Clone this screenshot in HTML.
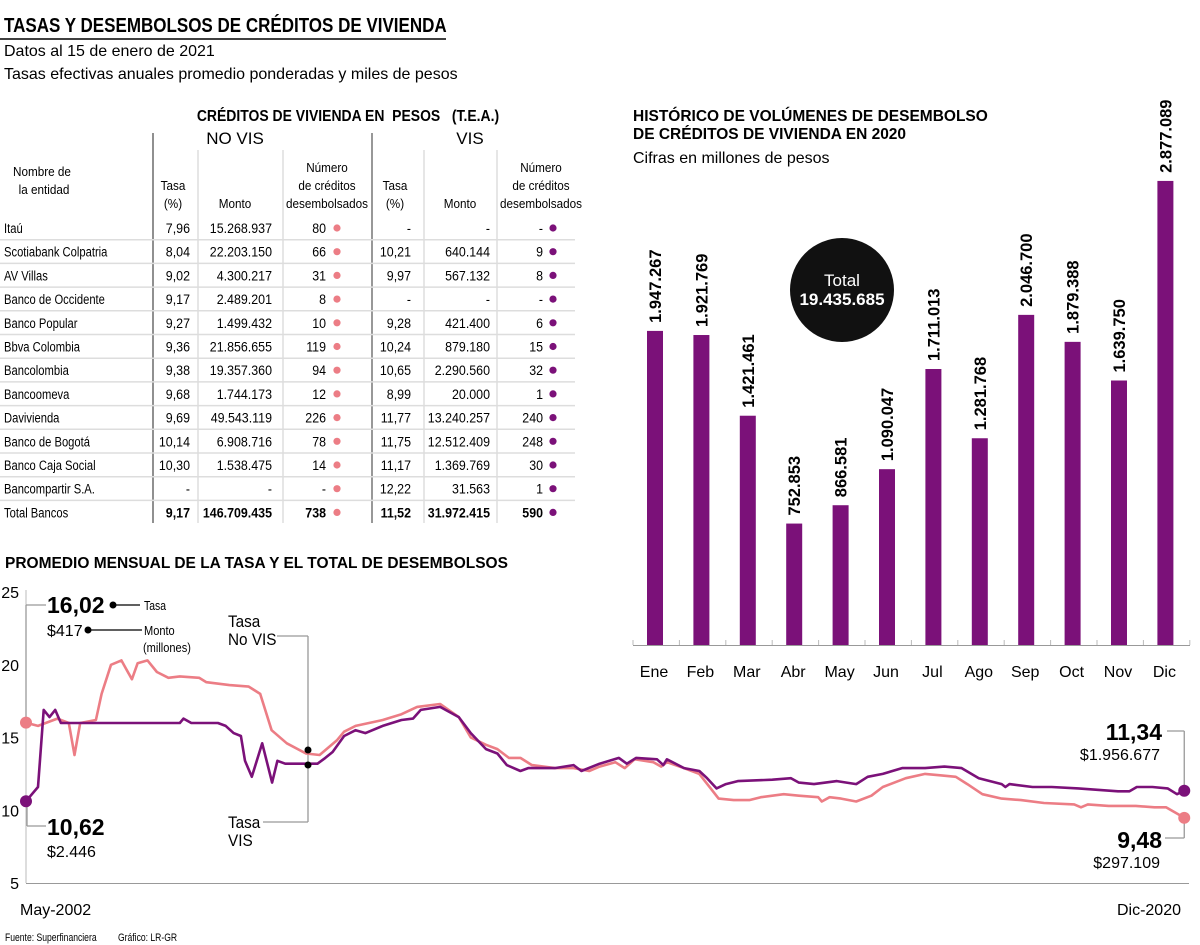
<!DOCTYPE html>
<html><head><meta charset="utf-8">
<style>
html,body{margin:0;padding:0;background:#fff;}
svg{display:block;font-family:"Liberation Sans Narrow","Liberation Sans",sans-serif;}
</style></head>
<body>
<svg id="s" width="1200" height="945" viewBox="0 0 1200 945" xmlns="http://www.w3.org/2000/svg">
<g>
<text id="mainTitle" x="4" y="32" font-size="20" font-weight="bold">TASAS Y DESEMBOLSOS DE CRÉDITOS DE VIVIENDA</text>
<line x1="0" y1="39" x2="446" y2="39" stroke="#000" stroke-width="1.5"/>
<text x="4" y="56" font-size="16">Datos al 15 de enero de 2021</text>
<text x="4" y="79" font-size="16">Tasas efectivas anuales promedio ponderadas y miles de pesos</text>
</g>
<g id="table">
<text id="tableTitle" x="348" y="121" font-size="15.5" font-weight="bold" text-anchor="middle" xml:space="preserve">CRÉDITOS DE VIVIENDA EN  PESOS   (T.E.A.)</text>
<text x="235" y="144" font-size="17" text-anchor="middle">NO VIS</text>
<text x="470" y="144" font-size="17" text-anchor="middle">VIS</text>
<line x1="153" y1="133" x2="153" y2="523" stroke="#222"/>
<line x1="372" y1="133" x2="372" y2="523" stroke="#777" stroke-width="1.5"/>
<line x1="198" y1="150" x2="198" y2="523" stroke="#ccc"/>
<line x1="283" y1="150" x2="283" y2="523" stroke="#ccc"/>
<line x1="424" y1="150" x2="424" y2="523" stroke="#ccc"/>
<line x1="497" y1="150" x2="497" y2="523" stroke="#ccc"/>
<g font-size="13" class="sq">
<text x="42" y="176" text-anchor="middle">Nombre de</text><text x="44" y="194" text-anchor="middle">la entidad</text>
<text x="173" y="190" text-anchor="middle">Tasa</text><text x="173" y="208" text-anchor="middle">(%)</text>
<text x="235" y="208" text-anchor="middle">Monto</text>
<text x="327" y="172" text-anchor="middle">Número</text><text x="327" y="190" text-anchor="middle">de créditos</text><text x="327" y="208" text-anchor="middle">desembolsados</text>
<text x="395" y="190" text-anchor="middle">Tasa</text><text x="395" y="208" text-anchor="middle">(%)</text>
<text x="460" y="208" text-anchor="middle">Monto</text>
<text x="541" y="172" text-anchor="middle">Número</text><text x="541" y="190" text-anchor="middle">de créditos</text><text x="541" y="208" text-anchor="middle">desembolsados</text>
</g>
</g>
<g id="bars">
<text x="633" y="121" font-size="15.5" font-weight="bold">HISTÓRICO DE VOLÚMENES DE DESEMBOLSO</text>
<text x="633" y="139" font-size="15.5" font-weight="bold">DE CRÉDITOS DE VIVIENDA EN 2020</text>
<text x="633" y="163" font-size="16">Cifras en millones de pesos</text>
<line x1="633" y1="645.5" x2="1190" y2="645.5" stroke="#999"/>
</g>
<g id="line">
<text x="5" y="568" font-size="15.5" font-weight="bold">PROMEDIO MENSUAL DE LA TASA Y EL TOTAL DE DESEMBOLSOS</text>
<line x1="26" y1="590" x2="26" y2="883" stroke="#bbb"/>
<line x1="26" y1="883.5" x2="1189" y2="883.5" stroke="#999"/>
<text x="20" y="915" font-size="16">May-2002</text>
<text x="1181" y="915" font-size="16" text-anchor="end">Dic-2020</text>
<text id="fuente" x="5" y="941" font-size="11">Fuente: Superfinanciera</text>
<text id="grafico" x="118" y="941" font-size="11">Gráfico: LR-GR</text>
</g>
</svg>
<script>
// ---- table data ----
const entities=["Itaú","Scotiabank Colpatria","AV Villas","Banco de Occidente","Banco Popular","Bbva Colombia","Bancolombia","Bancoomeva","Davivienda","Banco de Bogotá","Banco Caja Social","Bancompartir S.A.","Total Bancos"];
const noVisTasa=["7,96","8,04","9,02","9,17","9,27","9,36","9,38","9,68","9,69","10,14","10,30","-","9,17"];
const noVisMonto=["15.268.937","22.203.150","4.300.217","2.489.201","1.499.432","21.856.655","19.357.360","1.744.173","49.543.119","6.908.716","1.538.475","-","146.709.435"];
const noVisNum=["80","66","31","8","10","119","94","12","226","78","14","-","738"];
const visTasa=["-","10,21","9,97","-","9,28","10,24","10,65","8,99","11,77","11,75","11,17","12,22","11,52"];
const visMonto=["-","640.144","567.132","-","421.400","879.180","2.290.560","20.000","13.240.257","12.512.409","1.369.769","31.563","31.972.415"];
const visNum=["-","9","8","-","6","15","32","1","240","248","30","1","590"];
// ---- bar data ----
const months=["Ene","Feb","Mar","Abr","May","Jun","Jul","Ago","Sep","Oct","Nov","Dic"];
const volumes=[1947267,1921769,1421461,752853,866581,1090047,1711013,1281768,2046700,1879388,1639750,2877089];
const volumeLabels=["1.947.267","1.921.769","1.421.461","752.853","866.581","1.090.047","1.711.013","1.281.768","2.046.700","1.879.388","1.639.750","2.877.089"];
const totalLabel="19.435.685";
// ---- line data (month index from May-2002, rate %) ----
const noVisMonths=[0,2.3,6,8.2,9.3,10.4,13.4,14.5,16.3,18.3,20.3,21.4,23.3,25.1,27.3,29.5,33.2,34.6,39,42.7,44.9,47.1,50,53.7,56.3,59.6,61,63.2,68.4,72,75,79.4,83,85.3,88.2,90.4,92.6,94.8,97,101.4,105,108,110,113,114.8,116.7,120.3,121.8,122.9,126.2,129.1,131.3,132.8,135.7,138.7,140.9,145.3,148.2,151.9,152.6,154.1,156.3,159.2,162.1,164.3,168.7,172.4,175.3,178.3,180.5,183.4,187.1,190.8,195.2,201,202.3,203.6,207.6,212.8,216.4,218.6,222.1];
const noVisRates=[16.02,15.8,16.3,16.0,13.8,16.0,16.2,18.0,20.0,20.3,19.0,20.1,20.3,19.5,19.1,19.2,19.1,18.8,18.6,18.5,18.0,15.5,14.6,13.9,13.8,14.8,15.4,15.8,16.2,16.6,17.1,17.3,16.4,15.0,14.5,14.2,13.6,13.6,13.1,12.9,12.9,12.7,13.0,13.3,12.9,13.5,13.3,13.0,13.3,12.9,12.5,11.5,10.8,10.7,10.7,10.9,11.1,11.0,10.9,10.6,10.9,10.8,10.6,11.0,11.6,12.2,12.5,12.4,12.3,11.8,11.1,10.8,10.7,10.5,10.4,10.2,10.4,10.3,10.3,10.2,10.2,9.48];
const visMonths=[0,2.3,3.4,4.5,5.6,6.7,29.5,30.2,31.7,36.8,38.3,39.8,41.2,42,43.3,45.3,47.2,48.2,49.7,55.9,57.4,58.8,61,63.2,65.1,68.4,72,74.2,75.7,79.4,83,85.3,88.2,90.4,92.2,94.8,96.3,101.4,105,106.5,110,113.7,115.2,117,121,122.2,122.9,126.2,129.1,130.6,132.4,134.2,136.5,143.1,146.7,148.2,151.1,155.5,159.2,161.4,164.3,168,172.4,176.1,179.4,182.7,187.1,187.8,188.6,193,196.7,201.8,209.4,211.6,213,216,218.9,220.7,222.1];
const visRates=[10.62,11.6,16.9,16.4,16.9,16.0,16.0,16.3,16.0,16.0,15.8,15.3,15.1,13.4,12.3,14.6,11.9,13.4,13.2,13.2,13.6,14.0,15.1,15.5,15.3,15.8,16.2,16.3,16.9,17.1,16.4,15.3,14.2,13.9,13.1,12.7,12.9,12.9,13.1,12.7,13.2,13.6,13.2,13.6,13.5,13.1,13.5,12.9,12.7,12.2,11.5,11.8,12.0,12.1,12.2,11.9,11.8,12.0,11.8,12.3,12.5,12.9,12.9,13.0,12.9,12.2,11.8,11.6,11.8,11.6,11.6,11.5,11.3,11.3,11.6,11.6,11.5,11.1,11.34];
const yTicks=[25,20,15,10,5];

const NS="http://www.w3.org/2000/svg";
function mk(tag,attrs,parent,txt){const e=document.createElementNS(NS,tag);for(const k in attrs)e.setAttribute(k,attrs[k]);if(txt!==undefined)e.textContent=txt;parent.appendChild(e);return e;}
function sq(el,f){const l=el.getComputedTextLength();el.setAttribute('textLength',(l*f).toFixed(1));el.setAttribute('lengthAdjust','spacingAndGlyphs');}
const PINK="#ec7d85",PURPLE="#7b1179";

sq(document.getElementById('mainTitle'),0.85);
sq(document.getElementById('tableTitle'),0.9);
sq(document.getElementById('fuente'),0.78);
sq(document.getElementById('grafico'),0.78);
document.querySelectorAll('.sq text').forEach(t=>sq(t,0.9));

// table
const tg=document.getElementById('table');
entities.forEach((name,i)=>{
  const y=233+i*23.7;
  const bold=i===entities.length-1?"bold":"normal";
  if(i>0){const ln=mk('line',{x1:0,y1:y-17,x2:575,y2:y-17,stroke:"#ddd","stroke-width":1.5},tg);
    
    }
  const g=mk('g',{"font-size":13.5},tg);
  
  
  const nm=mk('text',{x:4,y:y},g,name);
  sq(nm,0.83);
  const cells=[
  mk('text',{x:190,y:y,"text-anchor":"end","font-weight":bold},g,noVisTasa[i]),
  mk('text',{x:272,y:y,"text-anchor":"end","font-weight":bold},g,noVisMonto[i]),
  mk('text',{x:326,y:y,"text-anchor":"end","font-weight":bold},g,noVisNum[i]),
  mk('text',{x:411,y:y,"text-anchor":"end","font-weight":bold},g,visTasa[i]),
  mk('text',{x:490,y:y,"text-anchor":"end","font-weight":bold},g,visMonto[i]),
  mk('text',{x:543,y:y,"text-anchor":"end","font-weight":bold},g,visNum[i])];
  cells.forEach(c=>sq(c,0.92));
  mk('circle',{cx:337,cy:y-5,r:3.6,fill:PINK},g);
  mk('circle',{cx:553,cy:y-5,r:3.6,fill:PURPLE},g);
});

// bars
const bg=document.getElementById('bars');
const bx=i=>655+i*46.4, by=v=>645-v*1.613e-4;
for(let k=0;k<=12;k++){const t=mk('line',{x1:633+k*46.4,y1:640,x2:633+k*46.4,y2:645,stroke:"#bbb"},bg);
  
  }
volumes.forEach((v,i)=>{
  const r=mk('rect',{x:bx(i)-8,y:by(v),width:16,height:645-by(v),fill:PURPLE},bg);
  
  
  const t=mk('text',{x:0,y:0,transform:`translate(${bx(i)+6},${by(v)-8}) rotate(-90)`,"font-size":16.5,"font-weight":"bold"},bg,volumeLabels[i]);
  
  
  const m=mk('text',{x:bx(i)-1,y:677,"text-anchor":"middle","font-size":16},bg,months[i]);
  
  
});
const tc=mk('circle',{cx:842,cy:290,r:52,fill:"#111"},bg);


const tt1=mk('text',{x:842,y:286,"text-anchor":"middle",fill:"#fff","font-size":17},bg,"Total");


const tt2=mk('text',{x:842,y:305,"text-anchor":"middle",fill:"#fff","font-size":17,"font-weight":"bold"},bg,totalLabel);



// line chart
const lg=document.getElementById('line');
const lx=m=>26+m*5.215, ly=v=>883-(v-5)*14.55;
yTicks.forEach(v=>{const t=mk('text',{x:19,y:ly(v)+6,"text-anchor":"end","font-size":16},lg,String(v));
  
  });
const G="#999";
function L(x1,y1,x2,y2,c){const e=mk('line',{x1,y1,x2,y2,stroke:c||G,"stroke-width":1.3},lg);return e;}
const p0=[lx(noVisMonths[0]),ly(noVisRates[0])], v0=[lx(visMonths[0]),ly(visRates[0])];
const pe=[lx(noVisMonths[noVisMonths.length-1]),ly(noVisRates[noVisRates.length-1])], ve=[lx(visMonths[visMonths.length-1]),ly(visRates[visRates.length-1])];
L(26,605,46,605); L(26,605,26,p0[1]);
L(v0[0]+1,v0[1],v0[0]+1,826); L(v0[0]+1,826,46,826);
L(1167,731,ve[0],731); L(ve[0],731,ve[0],ve[1]);
L(1165,838,pe[0],838); L(pe[0],838,pe[0],pe[1]);
L(277,636,308,636); L(308,636,308,822); L(263,822,308,822);
L(113,605,140,605,"#000"); L(88,630,142,630,"#000");
function T(x,y,s,t,extra,name,f){const a=Object.assign({x,y,"font-size":s},extra||{});const e=mk('text',a,lg,t);if(f)sq(e,f);return e;}
T(47,613,23,"16,02",{"font-weight":"bold"},"start-rate-novis");
T(144,610,13,"Tasa",{},"legend-tasa",0.8);
T(47,636,16,"$417",{},"start-amount-novis");
T(144,635,13,"Monto",{},"legend-monto",0.85);
T(143,652,13,"(millones)",{},"legend-millones",0.85);
T(47,835,23,"10,62",{"font-weight":"bold"},"start-rate-vis");
T(47,857,16,"$2.446",{},"start-amount-vis");
T(228,627,17,"Tasa",{},"label-tasa-novis",0.9);
T(228,645,17,"No VIS",{},"label-tasa-novis-2",0.9);
T(228,828,17,"Tasa",{},"label-tasa-vis",0.9);
T(228,846,17,"VIS",{},"label-tasa-vis-2",0.9);
T(1162,740,23,"11,34",{"font-weight":"bold","text-anchor":"end"},"end-rate-vis");
T(1160,760,16,"$1.956.677",{"text-anchor":"end"},"end-amount-vis");
T(1162,848,23,"9,48",{"font-weight":"bold","text-anchor":"end"},"end-rate-novis");
T(1160,868,16,"$297.109",{"text-anchor":"end"},"end-amount-novis");
function path(ms,vs,c,name){const d=ms.map((m,i)=>(i?'L':'M')+lx(m).toFixed(1)+','+ly(vs[i]).toFixed(1)).join('');
  const p=mk('path',{d,fill:"none",stroke:c,"stroke-width":2.6,"stroke-linejoin":"round"},lg);
  
  }
path(noVisMonths,noVisRates,PINK,'line-novis');
path(visMonths,visRates,PURPLE,'line-vis');
[[p0,PINK,'start-dot-novis'],[v0,PURPLE,'start-dot-vis'],[pe,PINK,'end-dot-novis'],[ve,PURPLE,'end-dot-vis']].forEach(([p,c,n])=>{
  const d=mk('circle',{cx:p[0],cy:p[1],r:6,fill:c},lg);
  
  });
[[113,605],[88,630],[308,750],[308,765]].forEach(p=>{
  const d=mk('circle',{cx:p[0],cy:p[1],r:3.5,fill:"#000"},lg);
  
  });
</script>
</body></html>
